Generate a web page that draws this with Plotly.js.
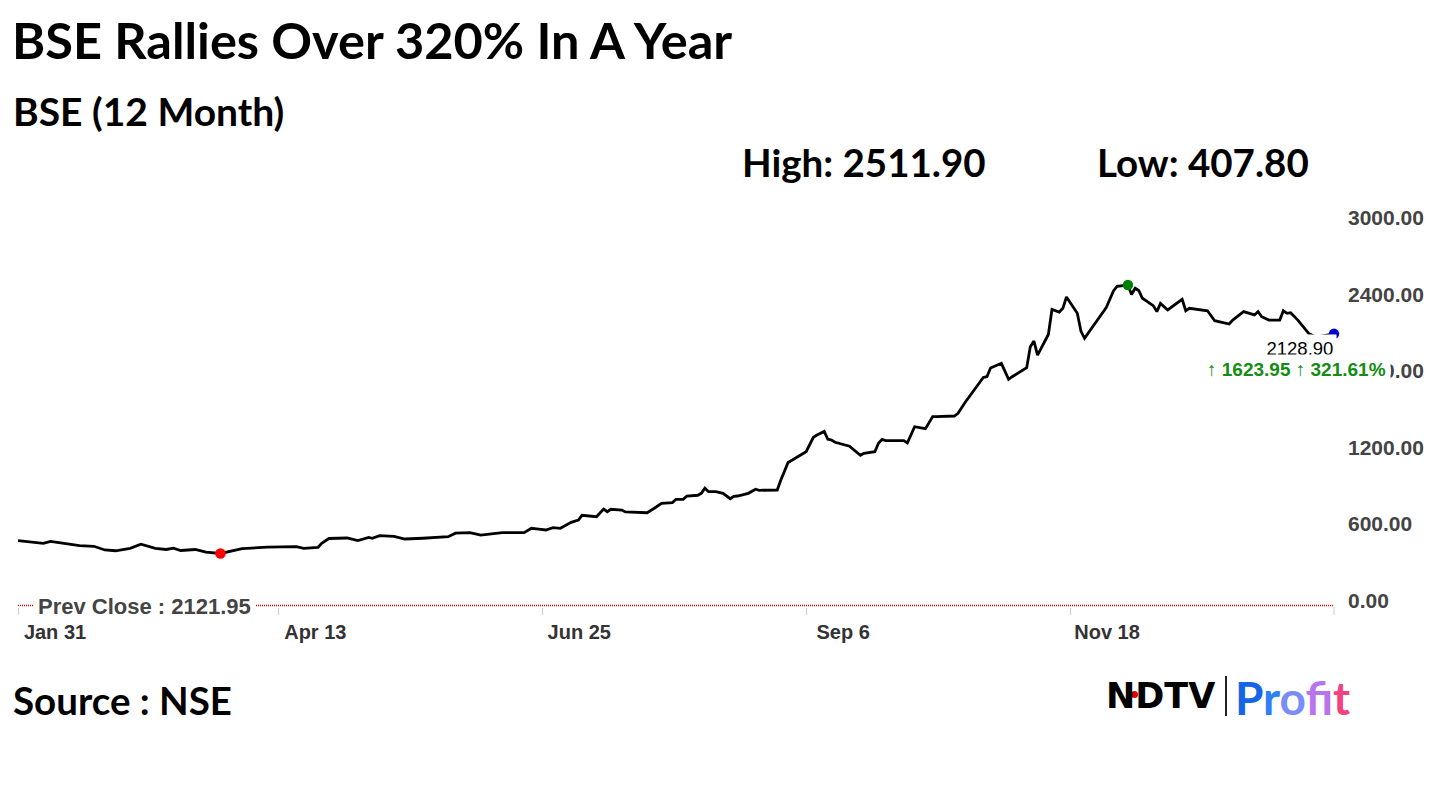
<!DOCTYPE html>
<html>
<head>
<meta charset="utf-8">
<script src="https://cdn.plot.ly/plotly-3.0.1.min.js"></script>
<style>
  html, body { margin: 0; padding: 0; background: #ffffff; }
  #chart { width: 1440px; height: 810px; }
</style>
</head>
<body>
<div id="chart"></div>
<script>
// ---- Data ----
const dates = [
  "2023-01-31","2023-02-07","2023-02-09","2023-02-14","2023-02-17","2023-02-21","2023-02-24","2023-02-27",
  "2023-03-03","2023-03-06","2023-03-10","2023-03-13","2023-03-15","2023-03-17","2023-03-21","2023-03-24",
  "2023-03-28","2023-04-03","2023-04-10","2023-04-18","2023-04-20","2023-04-24","2023-04-25","2023-04-27",
  "2023-05-02","2023-05-05","2023-05-08","2023-05-09","2023-05-11","2023-05-15","2023-05-18","2023-05-23",
  "2023-05-30","2023-06-01","2023-06-05","2023-06-08","2023-06-12","2023-06-14","2023-06-20","2023-06-22",
  "2023-06-24","2023-06-26","2023-06-28","2023-06-30","2023-07-03","2023-07-05","2023-07-06","2023-07-10",
  "2023-07-12","2023-07-13","2023-07-14","2023-07-17","2023-07-18","2023-07-24","2023-07-26","2023-07-28",
  "2023-07-31","2023-08-01","2023-08-03","2023-08-04","2023-08-07","2023-08-08","2023-08-09","2023-08-10",
  "2023-08-12","2023-08-14","2023-08-16","2023-08-17","2023-08-18","2023-08-21","2023-08-23","2023-08-24",
  "2023-08-29","2023-08-30","2023-09-01","2023-09-03","2023-09-05","2023-09-06","2023-09-08","2023-09-09",
  "2023-09-11","2023-09-12","2023-09-13","2023-09-14","2023-09-18","2023-09-21","2023-09-22","2023-09-25",
  "2023-09-26","2023-09-27","2023-09-28","2023-10-03","2023-10-04","2023-10-06","2023-10-09","2023-10-11",
  "2023-10-12","2023-10-17","2023-10-18","2023-10-20","2023-10-25","2023-10-26","2023-10-27","2023-10-30",
  "2023-11-01","2023-11-02","2023-11-06","2023-11-07","2023-11-08","2023-11-09","2023-11-12","2023-11-13",
  "2023-11-15","2023-11-16","2023-11-17","2023-11-20","2023-11-21","2023-11-22","2023-11-28","2023-11-30",
  "2023-12-01","2023-12-04","2023-12-05","2023-12-06","2023-12-07","2023-12-08","2023-12-11","2023-12-12",
  "2023-12-13","2023-12-15","2023-12-19","2023-12-20","2023-12-21","2023-12-26","2023-12-28","2024-01-01",
  "2024-01-02","2024-01-05","2024-01-08","2024-01-09","2024-01-10","2024-01-12","2024-01-15","2024-01-16",
  "2024-01-17","2024-01-18","2024-01-20","2024-01-23","2024-01-25","2024-01-30"
];
const prices = [
  509,487,503,480,469,464,435,429,
  448,480,448,439,449,431,439,419,
  407.8,445,458,461,448,456,487,525,
  529,509,533,527,547,542,521,527,
  539,567,571,551,566,571,571,605,
  599,592,610,605,652,670,707,696,
  756,735,754,748,733,727,762,801,
  806,832,832,858,864,879,919,892,
  892,879,837,856,858,879,911,903,
  905,984,1121,1154,1189,1205,1318,1336,
  1364,1303,1297,1279,1248,1177,1193,1205,
  1271,1302,1292,1292,1274,1401,1386,1480,
  1481,1485,1506,1593,1787,1793,1861,1898,
  1773,1793,1864,2028,2073,1963,2124,2321,
  2300,2329,2418,2290,2151,2094,2335,2465,
  2502,2511.9,2437,2486,2469,2408,2350,2303,
  2368,2316,2400,2310,2329,2310,2232,2206,
  2237,2303,2277,2303,2263,2237,2237,2310,
  2290,2295,2237,2132,2104,2128.9
];
const yTickVals = [0, 600, 1200, 1800, 2400, 3000];
const xTickVals = ["2023-01-31","2023-04-13","2023-06-25","2023-09-06","2023-11-18"];
const xTickText = ["Jan 31","Apr 13","Jun 25","Sep 6","Nov 18"];
const highValue = 2511.90;
const lowValue = 407.80;
const prevClose = 2121.95;
const changeAbs = 1623.95;
const changePct = 321.61;

// ---- Derived marker positions ----
const iLow = prices.indexOf(Math.min(...prices));
const iHigh = prices.indexOf(Math.max(...prices));
const iLast = prices.length - 1;

// plot area geometry helpers (pixels -> paper)
const PL = 18, PR = 1334, PT = 200, PB = 607;
const px = x => (x - PL) / (PR - PL);
const py = y => (PB - y) / (PB - PT);

const FONT = "Lato, 'Liberation Sans', Arial, sans-serif";
const ARIAL = "'Liberation Sans', Arial, sans-serif";

const traces = [
  {
    type: "scatter", mode: "lines", x: dates, y: prices,
    line: { color: "#000000", width: 2.8, shape: "linear" },
    hoverinfo: "skip", showlegend: false
  },
  {
    type: "scatter", mode: "markers", x: [dates[iLow]], y: [prices[iLow]],
    marker: { color: "#ff0000", size: 10.5 }, cliponaxis: false, showlegend: false
  },
  {
    type: "scatter", mode: "markers", x: [dates[iHigh]], y: [prices[iHigh]],
    marker: { color: "#008000", size: 10.5 }, cliponaxis: false, showlegend: false
  },
  {
    type: "scatter", mode: "markers", x: [dates[iLast]], y: [prices[iLast]],
    marker: { color: "#0000cc", size: 10.5 }, cliponaxis: false, showlegend: false
  }
];

const profitColors = ["#1565e8", "#2f80f2", "#7a8cf6", "#b874ee", "#dc55cc", "#f0437f"];
const profitText = "Profit".split("").map((c, i) =>
  `<span style="color:${profitColors[i]}">${c}</span>`).join("");

const layout = {
  width: 1440, height: 810,
  paper_bgcolor: "#ffffff", plot_bgcolor: "#ffffff",
  margin: { l: PL, r: 1440 - PR, t: PT, b: 810 - PB },
  showlegend: false,
  title: {
    text: "BSE Rallies Over 320% In A Year",
    font: { family: FONT, size: 50.5, color: "#000000", weight: "bold" },
    x: 12 / 1440, xref: "container", xanchor: "left",
    y: 1 - 41 / 810, yref: "container", yanchor: "middle"
  },
  xaxis: {
    type: "date",
    range: [dates[0], dates[iLast]],
    tickvals: xTickVals, ticktext: xTickText,
    ticks: "outside", ticklen: 7, tickcolor: "#cccccc", tickwidth: 1,
    ticklabelshift: 37, ticklabelstandoff: 0,
    tickfont: { family: ARIAL, size: 20, color: "#333333", weight: "bold" },
    showgrid: false, zeroline: false, showline: false, fixedrange: true
  },
  yaxis: {
    side: "right",
    range: [-11.8, 3178],
    tickvals: yTickVals, tickformat: ".2f",
    ticks: "", ticklabelstandoff: 13, ticklabelshift: -5,
    tickfont: { family: ARIAL, size: 21, color: "#444444", weight: "bold" },
    showgrid: false, zeroline: false, showline: false, fixedrange: true
  },
  shapes: [
    { type: "line", xref: "paper", x0: 0, x1: 1, yref: "y", y0: 0, y1: 0,
      line: { color: "#ee0000", width: 1.3, dash: "1px,1px" }, layer: "below" },
    { type: "line", xref: "paper", x0: 1, x1: 1, yref: "paper", y0: py(607), y1: py(615),
      line: { color: "#cccccc", width: 1 } },
    { type: "line", xref: "paper", x0: px(1226), x1: px(1226), yref: "paper", y0: py(676), y1: py(716),
      line: { color: "#222222", width: 2 } },
    { type: "circle", xref: "paper", yref: "paper",
      x0: px(1131), x1: px(1138), y0: py(698), y1: py(691),
      fillcolor: "#e00000", line: { width: 0 } }
  ],
  annotations: [
    { text: "BSE (12 Month)", xref: "paper", yref: "paper", x: px(11), y: py(111),
      xanchor: "left", yanchor: "middle", showarrow: false,
      font: { family: FONT, size: 39, color: "#000000", weight: "bold" } },
    { text: "High: " + highValue.toFixed(2), xref: "paper", yref: "paper", x: px(740), y: py(162),
      xanchor: "left", yanchor: "middle", showarrow: false,
      font: { family: FONT, size: 38.5, color: "#000000", weight: "bold" } },
    { text: "Low: " + lowValue.toFixed(2), xref: "paper", yref: "paper", x: px(1095), y: py(162),
      xanchor: "left", yanchor: "middle", showarrow: false,
      font: { family: FONT, size: 38.5, color: "#000000", weight: "bold" } },
    { text: "Source : NSE", xref: "paper", yref: "paper", x: px(11), y: py(700),
      xanchor: "left", yanchor: "middle", showarrow: false,
      font: { family: FONT, size: 38.5, color: "#000000", weight: "bold" } },
    { text: "Prev Close : " + prevClose.toFixed(2), xref: "paper", yref: "y", x: px(33), y: 0,
      xanchor: "left", yanchor: "middle", yshift: -1.5, showarrow: false,
      bgcolor: "#ffffff", borderpad: 4,
      font: { family: ARIAL, size: 22, color: "#444444", weight: "bold" } },
    { text: prices[iLast].toFixed(2), xref: "x", yref: "y", x: dates[iLast], y: prices[iLast],
      xanchor: "right", yanchor: "top", xshift: 3, yshift: 0, showarrow: false,
      bgcolor: "#ffffff", borderpad: 2.5,
      font: { family: ARIAL, size: 18.5, color: "#000000" } },
    { text: "↑ " + changeAbs.toFixed(2) + " ↑ " + changePct.toFixed(2) + "%", xref: "paper", yref: "paper",
      x: px(1391), y: py(369), xanchor: "right", yanchor: "middle", showarrow: false,
      bgcolor: "#ffffff", borderpad: 4,
      font: { family: ARIAL, size: 19, color: "#148c14", weight: "bold" } },
    { text: "NDTV", xref: "paper", yref: "paper", x: px(1104), y: py(696),
      xanchor: "left", yanchor: "middle", showarrow: false,
      font: { family: "'DejaVu Sans', sans-serif", size: 35, color: "#000000", weight: "bold" } },
    { text: profitText, xref: "paper", yref: "paper", x: px(1233), y: py(697),
      xanchor: "left", yanchor: "middle", showarrow: false,
      font: { family: FONT, size: 46, color: "#1565e8", weight: "bold" } }
  ]
};

Plotly.newPlot("chart", traces, layout, { displayModeBar: false, staticPlot: true });
</script>
</body>
</html>
